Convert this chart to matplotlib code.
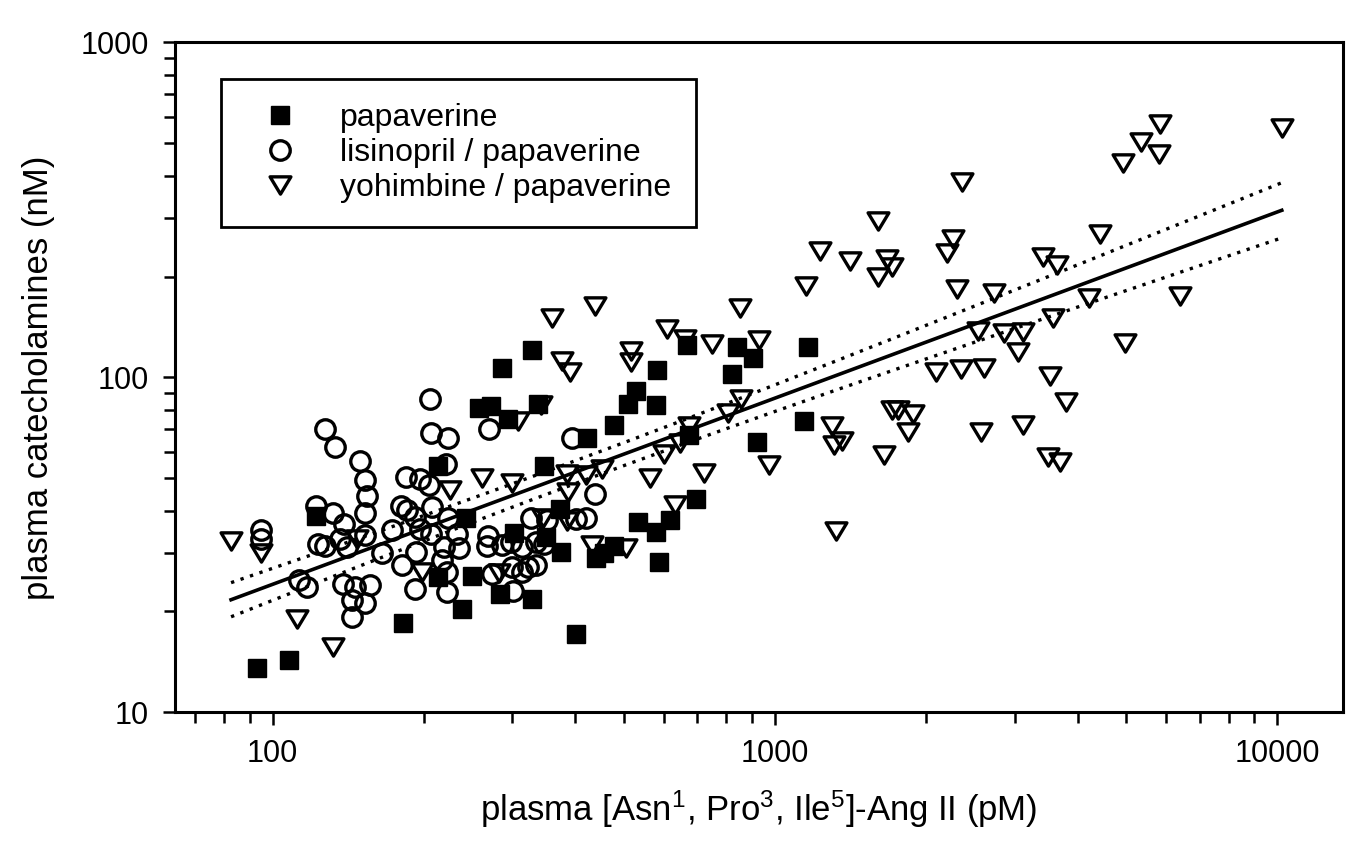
import numpy as np
import matplotlib
matplotlib.use('Agg')
import matplotlib.pyplot as plt
from matplotlib.path import Path
from matplotlib.ticker import FixedLocator, FixedFormatter, LogLocator, NullFormatter

plt.rcParams['font.family'] = ['Liberation Sans', 'DejaVu Sans']
plt.rcParams['mathtext.default'] = 'regular'

# papaverine (filled squares)
pap_x = [93, 108, 122, 182, 213, 213, 249, 243, 238, 283, 329, 302, 350, 375, 374,
         347, 328, 286, 258, 272, 294, 338, 422, 479, 510, 528, 579, 583, 673, 667,
         839, 904, 822, 919, 1161, 1143, 401, 441, 457, 478, 535, 581, 619, 696, 588]
pap_y = [13.6, 14.3, 38.5, 18.5, 54.5, 25.4, 25.5, 38.0, 20.4, 22.6, 21.8, 34.2, 33.3, 30.1, 40.4,
         54.2, 121, 107, 81.1, 82.3, 75.0, 83.5, 66.1, 72.0, 83.4, 91.3, 82.6, 105, 67.5, 125,
         123, 114, 102, 64.1, 123, 74.1, 17.1, 28.8, 30.0, 31.3, 36.9, 34.5, 37.5, 43.2, 28.1]

# lisinopril / papaverine (open circles)
lis_x = [94.7, 94.8, 127, 133, 149, 153, 154, 153, 122, 132, 139, 123, 127, 136, 141,
         153, 173, 180, 185, 192, 197, 207, 208, 184, 197, 224, 165, 193, 181, 192,
         219, 217, 222, 113, 117, 138, 146, 156, 144, 153, 144, 206, 207, 223, 270,
         394, 221, 205, 233, 235, 222, 269, 267, 286, 298, 314, 334, 347, 274, 300,
         313, 322, 335, 301, 327, 351, 438, 421, 402]
lis_y = [34.9, 33.0, 70.0, 62.0, 56.1, 49.3, 44.2, 39.3, 41.2, 39.4, 36.6, 31.7, 31.3, 32.9, 31.2,
         33.8, 35.1, 41.2, 40.1, 38.2, 35.2, 34.1, 41.0, 50.3, 49.7, 37.9, 29.9, 30.1, 27.6, 23.3,
         31.2, 28.5, 22.9, 24.9, 23.7, 24.2, 23.7, 24.0, 21.7, 21.2, 19.3, 86.2, 68.3, 65.7, 70.3,
         65.9, 55.3, 47.7, 34.0, 30.9, 26.3, 33.7, 31.4, 31.5, 32.2, 31.1, 32.3, 31.7, 25.9, 27.1,
         26.2, 27.2, 27.6, 23.1, 38.1, 37.6, 45.0, 37.9, 37.8]

# yohimbine / papaverine (open triangles)
yoh_x = [82.7, 95, 112, 132, 147, 226, 198, 261, 300, 342, 308, 360, 438, 377, 391,
         516, 517, 611, 661, 748, 931, 851, 1154, 855, 806, 675, 646, 601, 974, 386,
         420, 453, 387, 563, 723, 632, 346, 386, 432, 505, 282,
         5830, 10200, 5350, 5820, 4920, 2360, 1600, 4440, 1230, 2260, 2200, 1410, 1670, 1710,
         1600, 3410, 3640, 2300, 2730, 4220, 6410, 3570, 2540, 2850, 3120, 3050, 4980, 2090,
         2340, 2600, 3530, 3790, 1710, 1760, 1880, 1300, 1360, 1310, 1840, 2570, 3120, 1650,
         3490, 3700, 1320]
yoh_y = [32.4, 29.8, 19.0, 15.7, 33.0, 46.2, 26.2, 50.2, 48.3, 82.9, 74.1, 150, 163, 112, 104,
         120, 111, 139, 130, 126, 129, 161, 187, 86.0, 78.5, 71.8, 63.9, 59.0, 54.8, 51.4,
         51.2, 53.1, 45.5, 49.9, 51.8, 41.6, 38.1, 37.2, 31.5, 31.0, 26.1,
         569, 556, 505, 463, 436, 384, 292, 267, 239, 259, 235, 222, 225, 213,
         200, 229, 216, 184, 179, 173, 175, 150, 138, 136, 137, 119, 127, 104,
         106, 107, 101, 84.7, 79.8, 79.9, 77.9, 71.4, 64.5, 62.6, 68.8, 68.5, 72.3, 58.5,
         57.9, 56.0, 34.7]

# log-log regression and its confidence band (log10 units)
fit_intercept = 0.270
fit_slope = 0.556
band_w0 = 0.034
band_k = 0.054
band_center = 2.62

fig = plt.figure(figsize=(13.47, 8.48), dpi=100)
ax = fig.add_axes([0.130, 0.160, 0.867, 0.790])

all_x = np.array(pap_x + lis_x + yoh_x, dtype=float)
lx = np.linspace(np.log10(all_x.min()), np.log10(all_x.max()), 200)
ly = fit_intercept + fit_slope * lx
hw = np.sqrt(band_w0 ** 2 + (band_k * (lx - band_center)) ** 2)
ax.plot(10 ** lx, 10 ** ly, color='black', lw=2.6, zorder=2)
ax.plot(10 ** lx, 10 ** (ly + hw), color='black', lw=2.4, ls=(0, (1, 2)), zorder=2)
ax.plot(10 ** lx, 10 ** (ly - hw), color='black', lw=2.4, ls=(0, (1, 2)), zorder=2)

tri = Path([(-1, 0.83), (1, 0.83), (0, -0.83), (-1, 0.83)],
           [Path.MOVETO, Path.LINETO, Path.LINETO, Path.CLOSEPOLY])

ax.plot(pap_x, pap_y, ls='none', marker='s', ms=13, mfc='black', mec='black',
        mew=1, label='papaverine', zorder=3)
ax.plot(lis_x, lis_y, ls='none', marker='o', ms=14, mfc='none', mec='black',
        mew=2.4, label='lisinopril / papaverine', zorder=3)
ax.plot(yoh_x, yoh_y, ls='none', marker=tri, ms=15, mfc='none', mec='black',
        mew=2.4, label='yohimbine / papaverine', zorder=3)

ax.set_xscale('log')
ax.set_yscale('log')
ax.set_xlim(64, 13500)
ax.set_ylim(10, 1000)

ax.xaxis.set_major_locator(FixedLocator([100, 1000, 10000]))
ax.xaxis.set_major_formatter(FixedFormatter(['100', '1000', '10000']))
ax.xaxis.set_minor_locator(LogLocator(base=10, subs=np.arange(2, 10)))
ax.xaxis.set_minor_formatter(NullFormatter())
ax.yaxis.set_major_locator(FixedLocator([10, 100, 1000]))
ax.yaxis.set_major_formatter(FixedFormatter(['10', '100', '1000']))
ax.yaxis.set_minor_locator(LogLocator(base=10, subs=np.arange(2, 10)))
ax.yaxis.set_minor_formatter(NullFormatter())

ax.tick_params(which='both', direction='out', top=False, right=False, width=1.8,
               labelsize=22)
ax.tick_params(which='major', length=9)
ax.tick_params(which='minor', length=8)
ax.tick_params(axis='x', which='major', pad=10)
ax.tick_params(axis='y', which='major', pad=10)
for s in ax.spines.values():
    s.set_linewidth(2.2)

ax.set_xlabel('plasma [Asn$^1$, Pro$^3$, Ile$^5$]-Ang II (pM)', fontsize=25, labelpad=14)
ax.set_ylabel('plasma catecholamines (nM)', fontsize=25, labelpad=18)

leg = ax.legend(loc='upper left', bbox_to_anchor=(0.039, 0.945), borderaxespad=0,
                fontsize=23, frameon=True, fancybox=False, edgecolor='black',
                framealpha=1, borderpad=0.75, handlelength=2.2, handletextpad=0.8,
                labelspacing=0.15)
leg.get_frame().set_linewidth(2)

fig.savefig('out.png', dpi=100)
